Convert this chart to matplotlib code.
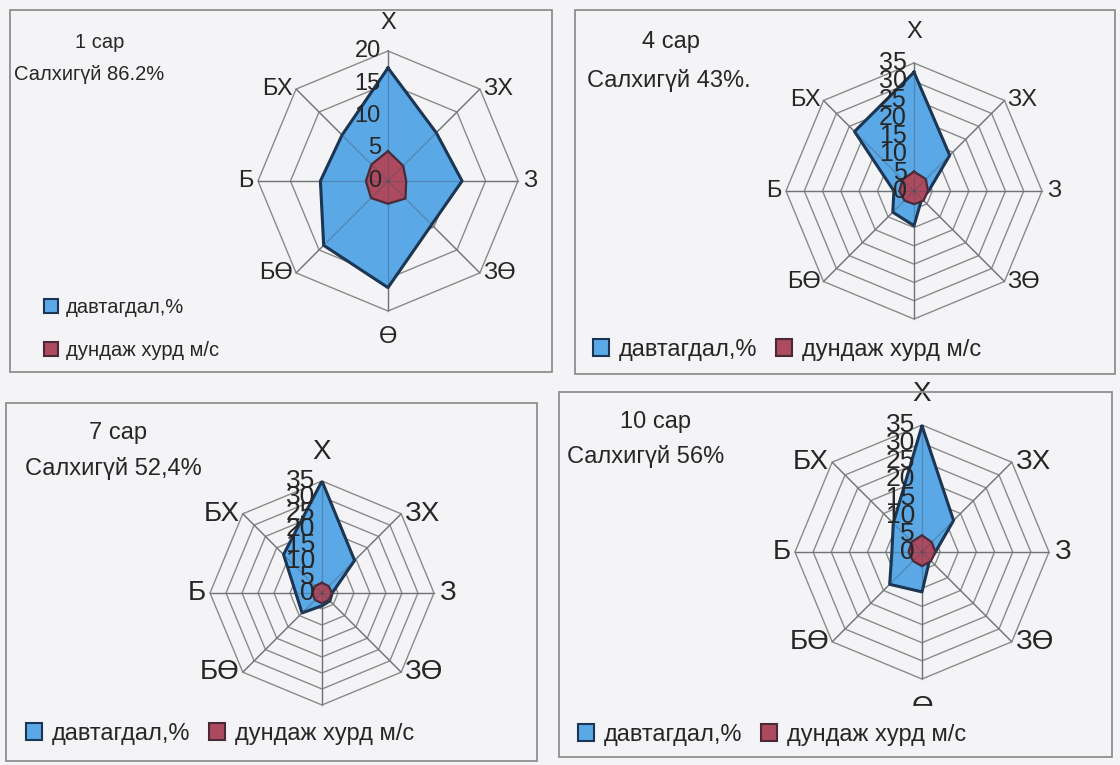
import numpy as np
import matplotlib
matplotlib.use('Agg')
import matplotlib.pyplot as plt
from matplotlib.patches import Rectangle, Patch

plt.rcParams['font.family'] = ['Liberation Sans', 'DejaVu Sans']

# ---------------- data ----------------
directions = ['Х', 'ЗХ', 'З', 'ЗӨ', 'Ө', 'БӨ', 'Б', 'БХ']
series_names = ['давтагдал,%', 'дундаж хурд м/с']
titles = ['1 сар', '4 сар', '7 сар', '10 сар']
calm_labels = ['Салхигүй 86.2%', 'Салхигүй 43%.', 'Салхигүй 52,4%', 'Салхигүй 56%']

jan_freq = [17.4, 10.5, 11.4, 9.5, 16.4, 14.0, 10.4, 10.0]
jan_speed = [4.6, 3.3, 2.8, 3.8, 3.5, 3.7, 3.4, 3.6]
apr_freq = [32.5, 13.8, 4.0, 3.0, 9.5, 8.2, 5.5, 23.0]
apr_speed = [5.3, 4.6, 3.8, 3.7, 3.6, 3.7, 4.0, 4.4]
jul_freq = [35.0, 14.4, 3.2, 3.5, 4.0, 8.8, 8.2, 17.0]
jul_speed = [3.2, 3.0, 3.1, 3.0, 3.2, 3.1, 3.0, 3.1]
oct_freq = [34.8, 12.3, 3.7, 3.0, 11.0, 12.6, 8.3, 11.2]
oct_speed = [4.6, 3.8, 3.7, 3.5, 3.9, 3.5, 3.7, 4.0]

ticks_jan = [0, 5, 10, 15, 20]
ticks_other = [0, 5, 10, 15, 20, 25, 30, 35]

# ---------------- style ----------------
BG = '#f4f4f6'
BOX = '#8f8f8f'
GRID = '#8a8a8a'
BLUE = '#5aa8e6'
NAVY = '#1b3552'
RED = '#ad4a60'
DRED = '#4a2a38'
TXT = '#262626'

W, H = 1120, 765
fig = plt.figure(figsize=(11.2, 7.65), dpi=100)
fig.patch.set_facecolor(BG)


def fx(x):
    return x / W


def fy(y):
    return 1 - y / H


boxes = [(10, 10, 552, 372), (575, 10, 1115, 374), (6, 403, 537, 761), (559, 392, 1112, 757)]
for (x0, y0, x1, y1) in boxes:
    fig.add_artist(Rectangle((fx(x0), fy(y1)), (x1 - x0) / W, (y1 - y0) / H,
                             transform=fig.transFigure, fill=False,
                             edgecolor=BOX, lw=1.3, zorder=30))

panels = [
    dict(c=(388, 181), R=130, ticks=ticks_jan, freq=jan_freq, speed=jan_speed,
         lab_fs=17, tick_fs=17, ngap=17, sgap=15, show_s=True,
         title_xy=(100, 43), calm_xy=(14, 75), text_fs=14.5,
         legend=dict(anchor=(30, 284), ncol=1, fs=14.5, pad=0.2)),
    dict(c=(914, 191), R=128, ticks=ticks_other, freq=apr_freq, speed=apr_speed,
         lab_fs=17, tick_fs=18, ngap=20, sgap=18, show_s=False,
         title_xy=(671, 42), calm_xy=(587, 81), text_fs=17,
         legend=dict(anchor=(576, 350), ncol=2, fs=17, pad=0.2)),
    dict(c=(322, 593), R=112, ticks=ticks_other, freq=jul_freq, speed=jul_speed,
         lab_fs=20, tick_fs=19, ngap=16, sgap=18, show_s=False,
         title_xy=(118, 433), calm_xy=(25, 468), text_fs=17,
         legend=dict(anchor=(9, 734), ncol=2, fs=17, pad=0.2)),
    dict(c=(922, 552), R=127, ticks=ticks_other, freq=oct_freq, speed=oct_speed,
         lab_fs=20, tick_fs=19, ngap=18, sgap=16, show_s=True,
         title_xy=(655, 422), calm_xy=(567, 457), text_fs=17,
         legend=dict(anchor=(548, 735), ncol=2, fs=17, pad=0.75)),
]

ang = np.deg2rad(np.arange(len(directions)) * 45.0)
angc = np.append(ang, ang[0])

for i, p in enumerate(panels):
    cx, cy = p['c']
    R = p['R']
    ticks = p['ticks']
    rmax = ticks[-1]
    ax = fig.add_axes([fx(cx - R), fy(cy + R), 2 * R / W, 2 * R / H], projection='polar')
    ax.set_theta_zero_location('N')
    ax.set_theta_direction(-1)
    ax.set_ylim(0, rmax)
    ax.set_facecolor('none')
    ax.grid(False)
    ax.set_xticks([])
    ax.set_yticks([])
    ax.spines['polar'].set_visible(False)

    # rings and spokes
    for t in ticks[1:]:
        ax.plot(angc, [t] * len(angc), color=GRID, lw=1.0, zorder=1, clip_on=False)
    for a in ang:
        ax.plot([a, a], [0, rmax], color=GRID, lw=1.0, zorder=1, clip_on=False)

    f = np.append(p['freq'], p['freq'][0])
    s = np.append(p['speed'], p['speed'][0])
    ax.fill(angc, f, color=BLUE, zorder=2)
    ax.plot(angc, f, color=NAVY, lw=2.2, zorder=3)
    ax.fill(angc, s, color=RED, zorder=4)
    ax.plot(angc, s, color=DRED, lw=1.6, zorder=5)
    for a in ang:
        ax.plot([a, a], [0, rmax], color='#3a4a5a', lw=0.9, alpha=0.35, zorder=6)

    # direction labels
    offs = {0: ('center', 'bottom', 0, p['ngap']),
            1: ('left', 'center', 3, 0),
            2: ('left', 'center', 5, 0),
            3: ('left', 'center', 3, 0),
            4: ('center', 'top', 0, -p['sgap']),
            5: ('right', 'center', -3, 0),
            6: ('right', 'center', -4, 0),
            7: ('right', 'center', -3, 0)}
    for k, lab in enumerate(directions):
        if k == 4 and not p['show_s']:
            continue  # hidden behind the legend in the original
        ha, va, dx, dy = offs[k]
        ax.annotate(lab, xy=(ang[k], rmax), xytext=(dx, dy), textcoords='offset pixels',
                    ha=ha, va=va, fontsize=p['lab_fs'], color=TXT,
                    annotation_clip=False, zorder=8)

    # radial tick labels
    for t in ticks:
        ax.annotate(str(t), xy=(0, t), xytext=(-7, 0), textcoords='offset pixels',
                    ha='right', va='center', fontsize=p['tick_fs'], color=TXT,
                    annotation_clip=False, zorder=9)

    # texts
    fig.text(fx(p['title_xy'][0]), fy(p['title_xy'][1]), titles[i], ha='center',
             va='center', fontsize=p['text_fs'], color=TXT)
    fig.text(fx(p['calm_xy'][0]), fy(p['calm_xy'][1]), calm_labels[i], ha='left',
             va='center', fontsize=p['text_fs'], color=TXT)

    # legend
    lg = p['legend']
    handles = [Patch(facecolor=BLUE, edgecolor=NAVY, lw=1.5),
               Patch(facecolor=RED, edgecolor=DRED, lw=1.5)]
    leg = ax.legend(handles, series_names, loc='upper left' if lg['ncol'] == 1 else 'center left',
                    bbox_to_anchor=(fx(lg['anchor'][0]), fy(lg['anchor'][1])),
                    bbox_transform=fig.transFigure, ncol=lg['ncol'],
                    fontsize=lg['fs'], handlelength=0.7, handleheight=0.7,
                    handletextpad=0.4, columnspacing=0.8,
                    labelspacing=1.2, frameon=True, facecolor=BG, edgecolor='none',
                    framealpha=1.0, borderpad=lg['pad'], fancybox=False)
    for txt in leg.get_texts():
        txt.set_color(TXT)
    leg.set_zorder(20)

fig.savefig('out.png', dpi=100, facecolor=BG)
